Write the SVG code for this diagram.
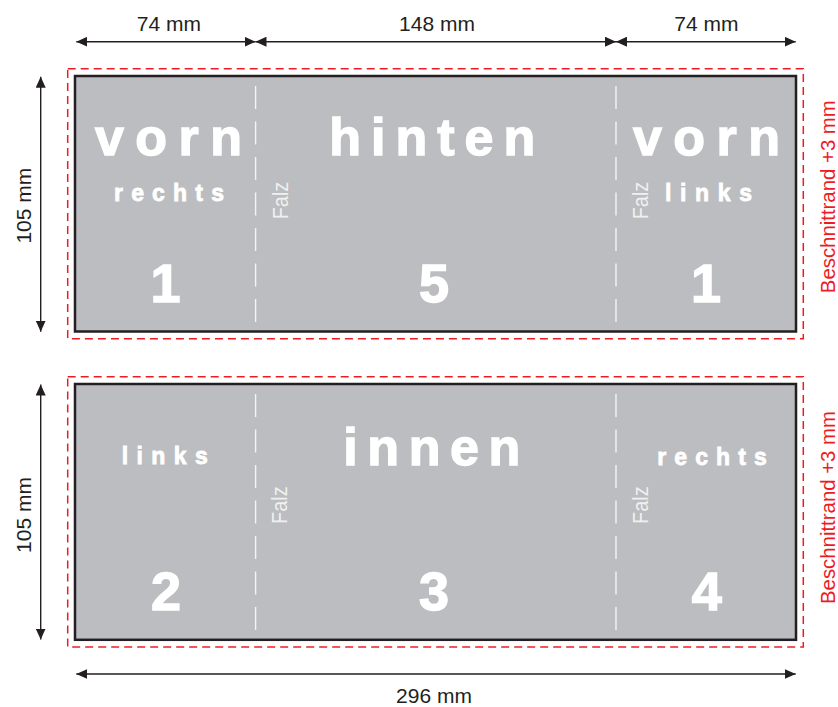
<svg xmlns="http://www.w3.org/2000/svg" width="838" height="707" viewBox="0 0 838 707">
<style>
.bg{fill:#ffffff}
.panel{fill:#bcbdc0;stroke:#231f20;stroke-width:2.5}
.bleed{fill:none;stroke:#ed1c24;stroke-width:1.5;stroke-dasharray:8 5}
.fold{stroke:#f4f4f4;stroke-width:1.4;stroke-dasharray:23 12.5}
.dim{stroke:#231f20;stroke-width:1.4;fill:none;marker-start:url(#ah);marker-end:url(#ah)}
.dimtxt{font-family:"Liberation Sans",Arial,sans-serif;font-size:21px;fill:#231f20;text-anchor:middle}
.red{font-family:"Liberation Sans",Arial,sans-serif;font-size:21px;fill:#ed1c24;text-anchor:middle}
.big{font-family:"Liberation Sans",Arial,sans-serif;font-weight:bold;font-size:52px;fill:#ffffff;stroke:#ffffff;stroke-width:1.4}
.mid{font-family:"Liberation Sans",Arial,sans-serif;font-weight:bold;font-size:23px;fill:#ffffff;stroke:#ffffff;stroke-width:0.8}
.num{font-family:"Liberation Sans",Arial,sans-serif;font-weight:bold;font-size:54px;fill:#ffffff;stroke:#ffffff;stroke-width:1.4;text-anchor:middle}
.falz{font-family:"Liberation Sans",Arial,sans-serif;font-size:22px;fill:#f0f0f0}
</style>
<defs>
<marker id="ah" viewBox="0 0 11 10" refX="11" refY="5" markerWidth="11" markerHeight="10" markerUnits="userSpaceOnUse" orient="auto-start-reverse">
<path d="M0,0 L11,5 L0,10 Z" fill="#231f20"/>
</marker>
</defs>
<rect class="bg" x="0" y="0" width="838" height="707"/>

<g id="panel-top">
<rect class="bleed" x="67.7" y="68.7" width="735.6" height="270"/>
<rect class="panel" x="75" y="76" width="721" height="255.5"/>
<line class="fold" x1="255.6" y1="86" x2="255.6" y2="322"/>
<line class="fold" x1="616" y1="86" x2="616" y2="322"/>
<g id="top-vorn-rechts">
<text class="big" x="95" y="155" textLength="147" lengthAdjust="spacing">vorn</text>
<text class="mid" x="114" y="200.7" textLength="110" lengthAdjust="spacing">rechts</text>
<text class="num" x="165.5" y="301.7">1</text>
</g>
<g id="top-hinten">
<text class="big" x="329.3" y="155" textLength="206" lengthAdjust="spacing">hinten</text>
<text class="falz" transform="translate(287.7,219.3) rotate(-90)" textLength="37.6" lengthAdjust="spacingAndGlyphs">Falz</text>
<text class="num" x="434" y="301.7">5</text>
</g>
<g id="top-vorn-links">
<text class="big" x="633" y="155" textLength="147" lengthAdjust="spacing">vorn</text>
<text class="mid" x="665" y="200.7" textLength="87" lengthAdjust="spacing">links</text>
<text class="falz" transform="translate(648,219.3) rotate(-90)" textLength="37.6" lengthAdjust="spacingAndGlyphs">Falz</text>
<text class="num" x="706" y="301.7">1</text>
</g>
<text class="red" transform="translate(835,196.7) rotate(-90)" textLength="193" lengthAdjust="spacingAndGlyphs">Beschnittrand +3 mm</text>
</g>

<g id="panel-bottom">
<rect class="bleed" x="67.7" y="376.7" width="735.6" height="270.3"/>
<rect class="panel" x="75" y="384" width="721" height="255.8"/>
<line class="fold" x1="255.6" y1="394" x2="255.6" y2="630"/>
<line class="fold" x1="616" y1="394" x2="616" y2="630"/>
<g id="bottom-links">
<text class="mid" x="121.7" y="464" textLength="86" lengthAdjust="spacing">links</text>
<text class="num" x="166" y="610">2</text>
</g>
<g id="bottom-innen">
<text class="big" x="343.3" y="465" textLength="177" lengthAdjust="spacing">innen</text>
<text class="falz" transform="translate(287.3,524) rotate(-90)" textLength="37.6" lengthAdjust="spacingAndGlyphs">Falz</text>
<text class="num" x="434" y="610">3</text>
</g>
<g id="bottom-rechts">
<text class="mid" x="657.3" y="465" textLength="109.4" lengthAdjust="spacing">rechts</text>
<text class="falz" transform="translate(648.3,524) rotate(-90)" textLength="37.6" lengthAdjust="spacingAndGlyphs">Falz</text>
<text class="num" x="706.7" y="610">4</text>
</g>
<text class="red" transform="translate(835,507.5) rotate(-90)" textLength="193" lengthAdjust="spacingAndGlyphs">Beschnittrand +3 mm</text>
</g>

<g id="connectors">
<line class="dim" x1="76.3" y1="41.7" x2="255.5" y2="41.7"/>
<line class="dim" x1="255.5" y1="41.7" x2="616" y2="41.7"/>
<line class="dim" x1="616" y1="41.7" x2="795.7" y2="41.7"/>
<line class="dim" x1="40.7" y1="76.7" x2="40.7" y2="331.7"/>
<line class="dim" x1="40.7" y1="384.5" x2="40.7" y2="639.5"/>
<line class="dim" x1="76.3" y1="674" x2="795.7" y2="674"/>
</g>

<g id="dimension-labels">
<text class="dimtxt" x="168.8" y="30.7">74 mm</text>
<text class="dimtxt" x="437" y="30.7">148 mm</text>
<text class="dimtxt" x="706.3" y="30.7">74 mm</text>
<text class="dimtxt" transform="translate(30.7,205.7) rotate(-90)">105 mm</text>
<text class="dimtxt" transform="translate(30.7,515) rotate(-90)">105 mm</text>
<text class="dimtxt" x="434" y="703">296 mm</text>
</g>
</svg>
